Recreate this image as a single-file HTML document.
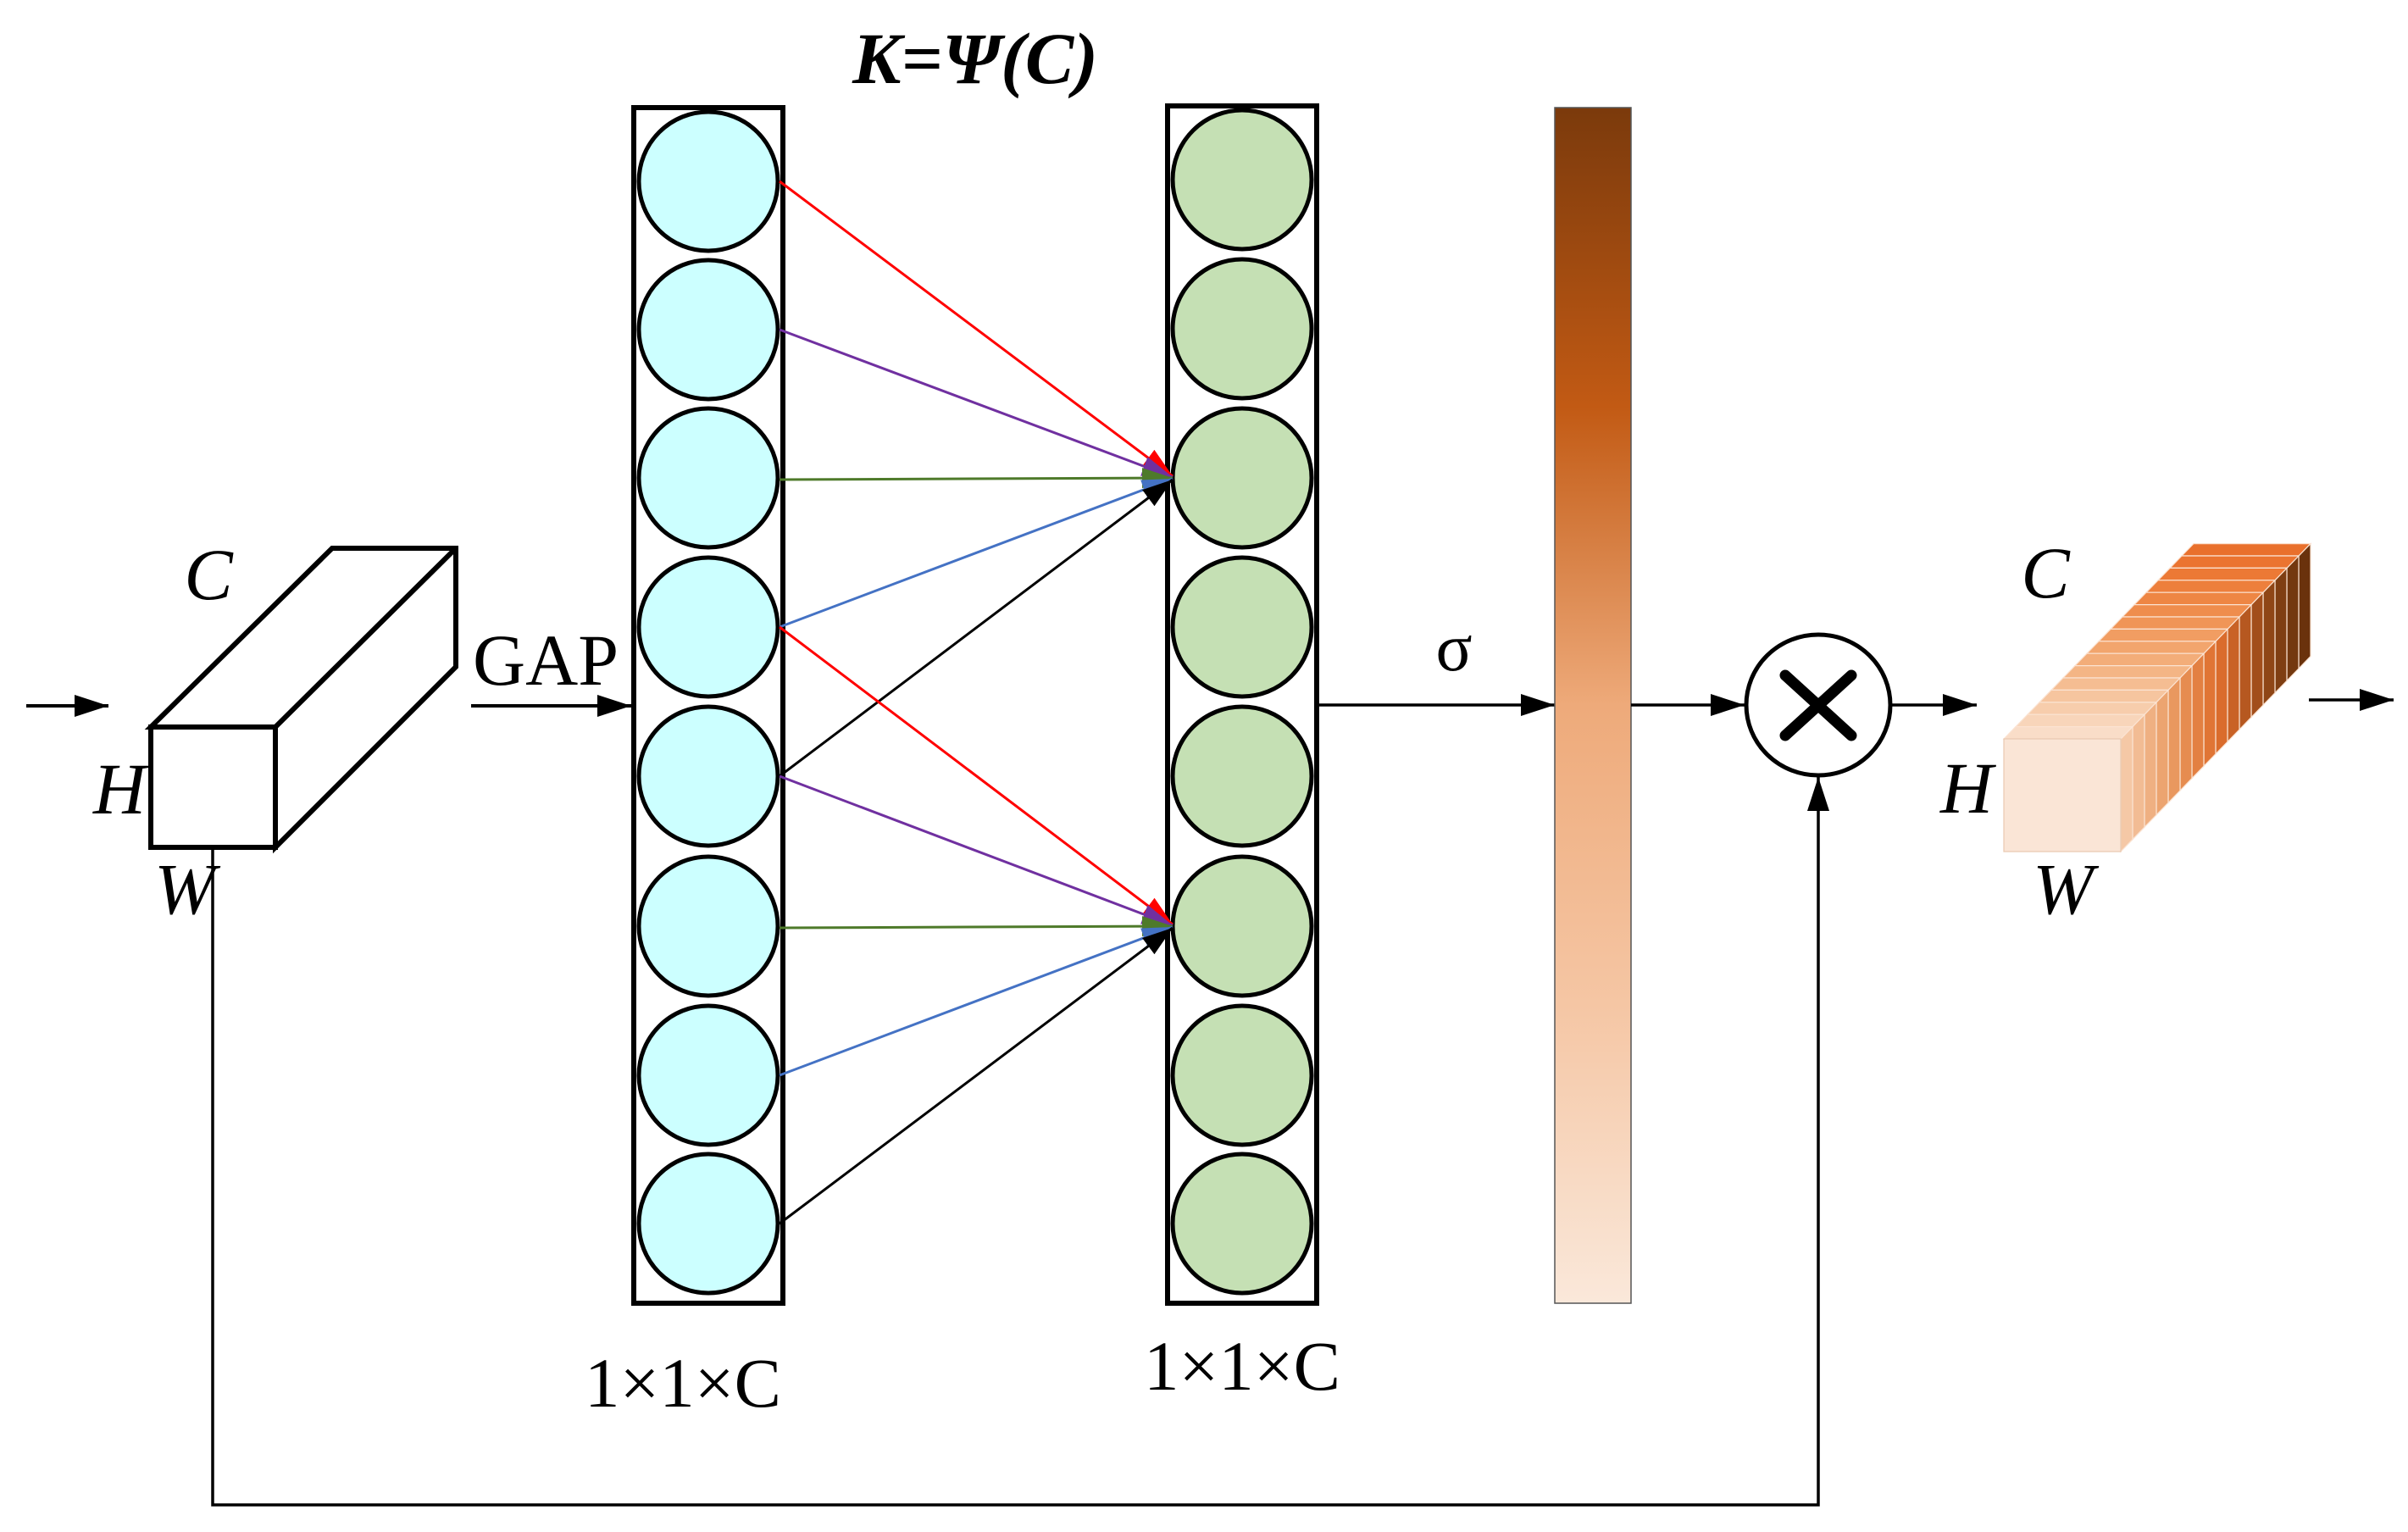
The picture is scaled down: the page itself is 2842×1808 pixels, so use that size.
<!DOCTYPE html>
<html><head><meta charset="utf-8"><style>
html,body{margin:0;padding:0;background:#fff;}
svg{display:block;}
text{font-family:"Liberation Serif",serif;}
</style></head><body>
<svg width="2842" height="1808" viewBox="0 0 2842 1808" xmlns="http://www.w3.org/2000/svg">
<defs>
<marker id="mr" markerWidth="36" markerHeight="24" refX="36" refY="12" orient="auto" markerUnits="userSpaceOnUse"><path d="M0,0 L36,12 L0,24 Z" fill="#f00"/></marker>
<marker id="mp" markerWidth="36" markerHeight="24" refX="36" refY="12" orient="auto" markerUnits="userSpaceOnUse"><path d="M0,0 L36,12 L0,24 Z" fill="#7030A0"/></marker>
<marker id="mg" markerWidth="36" markerHeight="24" refX="36" refY="12" orient="auto" markerUnits="userSpaceOnUse"><path d="M0,0 L36,12 L0,24 Z" fill="#4E7A2A"/></marker>
<marker id="mb" markerWidth="36" markerHeight="24" refX="36" refY="12" orient="auto" markerUnits="userSpaceOnUse"><path d="M0,0 L36,12 L0,24 Z" fill="#4472C4"/></marker>
<marker id="mbk" markerWidth="36" markerHeight="24" refX="36" refY="12" orient="auto" markerUnits="userSpaceOnUse"><path d="M0,0 L36,12 L0,24 Z" fill="#000"/></marker>
<marker id="ma" markerWidth="40" markerHeight="26" refX="40" refY="13" orient="auto" markerUnits="userSpaceOnUse"><path d="M0,0 L40,13 L0,26 Z" fill="#000"/></marker>
<linearGradient id="gb" x1="0" y1="0" x2="0" y2="1">
<stop offset="0" stop-color="#7B3A0C"/>
<stop offset="0.25" stop-color="#C25A14"/>
<stop offset="0.5" stop-color="#EEAA7A"/>
<stop offset="0.75" stop-color="#F5C6A4"/>
<stop offset="1" stop-color="#FAE8DA"/>
</linearGradient>
</defs>

<line x1="31" y1="833" x2="128" y2="833" stroke="#000" stroke-width="4" marker-end="url(#ma)"/>

<g fill="none" stroke="#000" stroke-width="6" stroke-linejoin="miter">
<polygon points="178,858 392,647 538,647 538,787 325,1000 325,858" fill="#fff"/>
<line x1="325" y1="858" x2="538" y2="647"/>
<rect x="178" y="858" width="147" height="142" fill="#fff"/>
</g>
<text x="246" y="707" font-size="86" font-style="italic" text-anchor="middle">C</text>
<text x="141" y="960" font-size="86" font-style="italic" text-anchor="middle">H</text>
<text x="218" y="1078" font-size="86" font-style="italic" text-anchor="middle">W</text>

<polyline points="251,1000 251,1776 2146,1776 2146,917" fill="none" stroke="#000" stroke-width="3.5" marker-end="url(#ma)"/>

<text x="558" y="808" font-size="86">GAP</text>
<line x1="556" y1="833" x2="745" y2="833" stroke="#000" stroke-width="4" marker-end="url(#ma)"/>

<text x="1151" y="98" font-size="86" font-style="italic" font-weight="bold" text-anchor="middle">K=Ψ(C)</text>

<rect x="748" y="127" width="176" height="1411" fill="#fff" stroke="#000" stroke-width="6"/>
<g fill="#CCFFFF" stroke="#000" stroke-width="5">
<ellipse cx="836" cy="214" rx="82" ry="82"/>
<ellipse cx="836" cy="389" rx="82" ry="82"/>
<ellipse cx="836" cy="564" rx="82" ry="82"/>
<ellipse cx="836" cy="740" rx="82" ry="82"/>
<ellipse cx="836" cy="916" rx="82" ry="82"/>
<ellipse cx="836" cy="1093" rx="82" ry="82"/>
<ellipse cx="836" cy="1269" rx="82" ry="82"/>
<ellipse cx="836" cy="1444" rx="82" ry="82"/>
</g>

<rect x="1378" y="125" width="176" height="1413" fill="#fff" stroke="#000" stroke-width="6"/>
<g fill="#C5E0B4" stroke="#000" stroke-width="5">
<ellipse cx="1466" cy="212" rx="82" ry="82"/>
<ellipse cx="1466" cy="388" rx="82" ry="82"/>
<ellipse cx="1466" cy="564" rx="82" ry="82"/>
<ellipse cx="1466" cy="740" rx="82" ry="82"/>
<ellipse cx="1466" cy="916" rx="82" ry="82"/>
<ellipse cx="1466" cy="1093" rx="82" ry="82"/>
<ellipse cx="1466" cy="1269" rx="82" ry="82"/>
<ellipse cx="1466" cy="1444" rx="82" ry="82"/>
</g>

<g stroke-width="3" fill="none">
<line x1="920" y1="214" x2="1384" y2="562" stroke="#f00" marker-end="url(#mr)"/>
<line x1="920" y1="389" x2="1384" y2="563" stroke="#7030A0" marker-end="url(#mp)"/>
<line x1="920" y1="566" x2="1384" y2="564" stroke="#4E7A2A" marker-end="url(#mg)"/>
<line x1="920" y1="740" x2="1384" y2="565" stroke="#4472C4" marker-end="url(#mb)"/>
<line x1="920" y1="916" x2="1384" y2="566" stroke="#000" marker-end="url(#mbk)"/>
<line x1="920" y1="740" x2="1384" y2="1091" stroke="#f00" marker-end="url(#mr)"/>
<line x1="920" y1="916" x2="1384" y2="1092" stroke="#7030A0" marker-end="url(#mp)"/>
<line x1="920" y1="1095" x2="1384" y2="1093" stroke="#4E7A2A" marker-end="url(#mg)"/>
<line x1="920" y1="1269" x2="1384" y2="1094" stroke="#4472C4" marker-end="url(#mb)"/>
<line x1="920" y1="1444" x2="1384" y2="1095" stroke="#000" marker-end="url(#mbk)"/>
</g>

<text x="806" y="1660" font-size="83" text-anchor="middle">1×1×C</text>
<text x="1466" y="1640" font-size="83" text-anchor="middle">1×1×C</text>

<text x="1716" y="791" font-size="80" text-anchor="middle">σ</text>
<line x1="1557" y1="832" x2="1835" y2="832" stroke="#000" stroke-width="3.5" marker-end="url(#ma)"/>

<rect x="1835" y="127" width="90" height="1411" fill="url(#gb)" stroke="#555" stroke-width="1.5"/>

<line x1="1925" y1="832" x2="2059" y2="832" stroke="#000" stroke-width="3.5" marker-end="url(#ma)"/>

<ellipse cx="2146" cy="832" rx="85" ry="83" fill="#fff" stroke="#000" stroke-width="5"/>
<g stroke="#000" stroke-width="13" stroke-linecap="round">
<line x1="2107" y1="797" x2="2185" y2="868"/>
<line x1="2185" y1="797" x2="2107" y2="868"/>
</g>
<line x1="2232" y1="832" x2="2333" y2="832" stroke="#000" stroke-width="3.5" marker-end="url(#ma)"/>

<g transform="translate(-10,0)">
<g stroke="#FBE3D2" stroke-width="1.2">
<polygon points="2723,656 2737,641.6 2737,774.6 2723,789" fill="#6A320C"/><polygon points="2585,656 2723,656 2737,641.6 2599,641.6" fill="#E9702C"/>
<polygon points="2709,670.4 2723,656 2723,789 2709,803.4" fill="#73380F"/><polygon points="2571,670.4 2709,670.4 2723,656 2585,656" fill="#EB7430"/>
<polygon points="2695,684.8 2709,670.4 2709,803.4 2695,817.8" fill="#7F3E12"/><polygon points="2557,684.8 2695,684.8 2709,670.4 2571,670.4" fill="#EC7935"/>
<polygon points="2681,699.2 2695,684.8 2695,817.8 2681,832.2" fill="#8F4616"/><polygon points="2543,699.2 2681,699.2 2695,684.8 2557,684.8" fill="#ED7F3C"/>
<polygon points="2667,713.6 2681,699.2 2681,832.2 2667,846.6" fill="#A24E1B"/><polygon points="2529,713.6 2667,713.6 2681,699.2 2543,699.2" fill="#EE8644"/>
<polygon points="2653,728 2667,713.6 2667,846.6 2653,861" fill="#B65820"/><polygon points="2515,728 2653,728 2667,713.6 2529,713.6" fill="#EF8D4D"/>
<polygon points="2639,742.4 2653,728 2653,861 2639,875.4" fill="#C96226"/><polygon points="2501,742.4 2639,742.4 2653,728 2515,728" fill="#F09557"/>
<polygon points="2625,756.8 2639,742.4 2639,875.4 2625,889.8" fill="#DA6C2C"/><polygon points="2487,756.8 2625,756.8 2639,742.4 2501,742.4" fill="#F19D62"/>
<polygon points="2611,771.2 2625,756.8 2625,889.8 2611,904.2" fill="#E07535"/><polygon points="2473,771.2 2611,771.2 2625,756.8 2487,756.8" fill="#F2A56D"/>
<polygon points="2597,785.6 2611,771.2 2611,904.2 2597,918.6" fill="#E38042"/><polygon points="2459,785.6 2597,785.6 2611,771.2 2473,771.2" fill="#F3AD79"/>
<polygon points="2583,800 2597,785.6 2597,918.6 2583,933" fill="#E68C50"/><polygon points="2445,800 2583,800 2597,785.6 2459,785.6" fill="#F4B585"/>
<polygon points="2569,814.4 2583,800 2583,933 2569,947.4" fill="#E9985F"/><polygon points="2431,814.4 2569,814.4 2583,800 2445,800" fill="#F5BD92"/>
<polygon points="2555,828.8 2569,814.4 2569,947.4 2555,961.8" fill="#ECA470"/><polygon points="2417,828.8 2555,828.8 2569,814.4 2431,814.4" fill="#F6C59F"/>
<polygon points="2541,843.2 2555,828.8 2555,961.8 2541,976.2" fill="#EFB082"/><polygon points="2403,843.2 2541,843.2 2555,828.8 2417,828.8" fill="#F7CDAC"/>
<polygon points="2527,857.6 2541,843.2 2541,976.2 2527,990.6" fill="#F2BC94"/><polygon points="2389,857.6 2527,857.6 2541,843.2 2403,843.2" fill="#F8D5BA"/>
<polygon points="2513,872 2527,857.6 2527,990.6 2513,1005" fill="#F5C8A6"/><polygon points="2375,872 2513,872 2527,857.6 2389,857.6" fill="#F9DDC8"/>
</g>
<rect x="2375" y="872" width="138" height="133" fill="#FAE5D6" stroke="#E8C8B0" stroke-width="1.2"/>
<text x="2424" y="705" font-size="86" font-style="italic" text-anchor="middle">C</text>
<text x="2331" y="959" font-size="86" font-style="italic" text-anchor="middle">H</text>
<text x="2445" y="1078" font-size="86" font-style="italic" text-anchor="middle">W</text>
</g>

<line x1="2725" y1="826" x2="2825" y2="826" stroke="#000" stroke-width="3.5" marker-end="url(#ma)"/>
</svg>
</body></html>
